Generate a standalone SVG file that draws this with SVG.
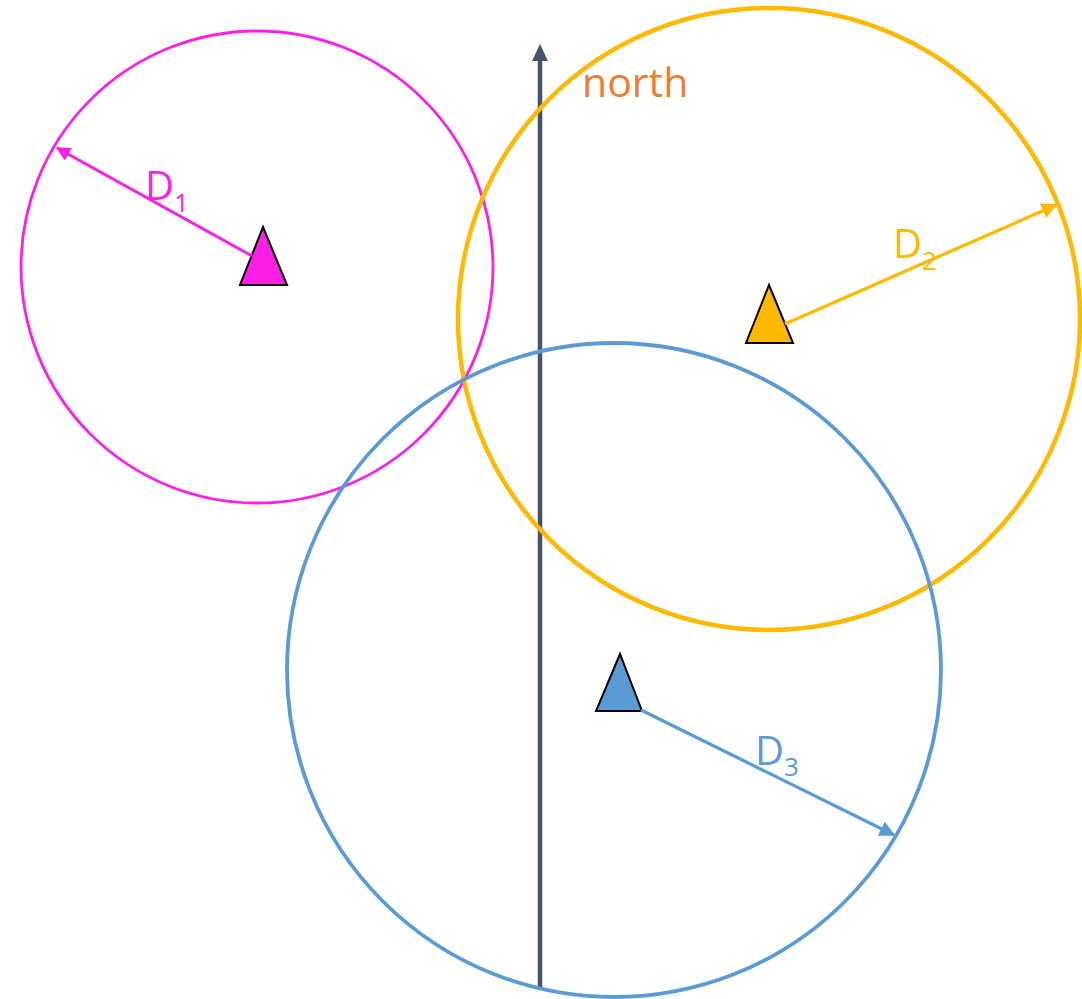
<svg xmlns="http://www.w3.org/2000/svg" width="1082" height="999" viewBox="0 0 1082 999">
<style>
.lbl{font-family:"Open Sans","Liberation Sans",sans-serif;font-size:40px}
.sub{font-size:26px}
.tri{stroke:#000;stroke-width:2;stroke-linejoin:miter}
.circ{fill:none}
</style>
<defs>
<marker id="mM" viewBox="0 0 10 10" refX="9" refY="5" markerWidth="4.8" markerHeight="4.8" markerUnits="strokeWidth" orient="auto"><path d="M0,0 L10,5 L0,10 z" fill="#ff1ee6"/></marker>
<marker id="mO" viewBox="0 0 10 10" refX="9" refY="5" markerWidth="4.8" markerHeight="4.8" markerUnits="strokeWidth" orient="auto"><path d="M0,0 L10,5 L0,10 z" fill="#ffb900"/></marker>
<marker id="mB" viewBox="0 0 10 10" refX="9" refY="5" markerWidth="4.8" markerHeight="4.8" markerUnits="strokeWidth" orient="auto"><path d="M0,0 L10,5 L0,10 z" fill="#5b9bd5"/></marker>
</defs>
<g id="north">
<line x1="540" y1="987" x2="540" y2="58" stroke="#44546a" stroke-width="4.5"/>
<polygon points="540,44 532,61 548,61" fill="#44546a"/>
<text class="lbl" x="582" y="97" fill="#ed7d31" style="font-size:41px">north</text>
</g>
<g id="node1">
<circle class="circ" cx="257" cy="267" r="236" stroke="#ff1ee6" stroke-width="2.8"/>
<polygon class="tri" points="263,227 240,285 287,285" fill="#ff1ee6"/>
</g>
<g id="node2">
<circle class="circ" cx="769" cy="319" r="311" stroke="#ffb900" stroke-width="4.5"/>
<polygon class="tri" points="769,285 746,343 793,343" fill="#ffb900"/>
</g>
<g id="node3">
<circle class="circ" cx="614" cy="670" r="327" stroke="#5b9bd5" stroke-width="3.8"/>
<polygon class="tri" points="620,654 596,711 642,711" fill="#5b9bd5"/>
</g>
<g id="connectors">
<line x1="252" y1="256" x2="57" y2="148" stroke="#ff1ee6" stroke-width="3" marker-end="url(#mM)"/>
<line x1="785" y1="324" x2="1056" y2="205" stroke="#ffb900" stroke-width="3.3" marker-end="url(#mO)"/>
<line x1="641" y1="710" x2="894" y2="835" stroke="#5b9bd5" stroke-width="3.3" marker-end="url(#mB)"/>
</g>
<g id="labels">
<text class="lbl" x="145" y="200" fill="#ff1ee6">D<tspan class="sub" dy="12">1</tspan></text>
<text class="lbl" x="893" y="258" fill="#ffb900">D<tspan class="sub" dy="12">2</tspan></text>
<text class="lbl" x="755" y="765" fill="#5b9bd5">D<tspan class="sub" dy="11">3</tspan></text>
</g>
</svg>
